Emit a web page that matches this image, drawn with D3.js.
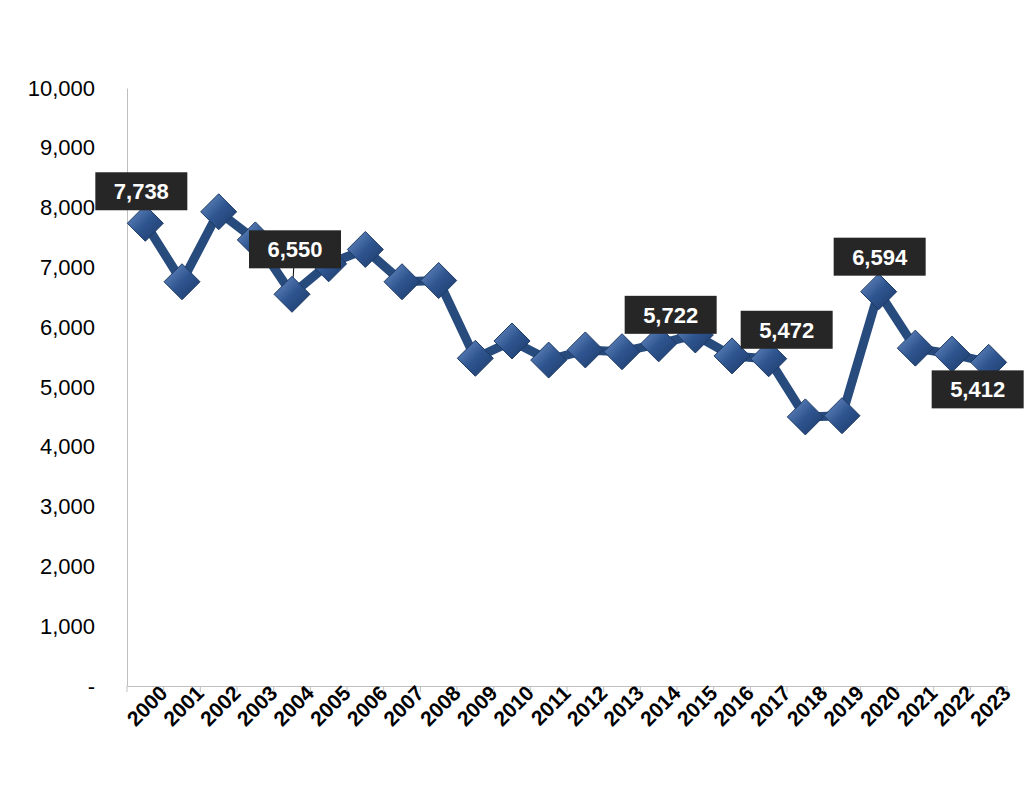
<!DOCTYPE html>
<html><head><meta charset="utf-8">
<script src="https://cdn.jsdelivr.net/npm/d3@7"></script>
<style>body{margin:0;background:#fff;font-family:"Liberation Sans",Arial,sans-serif;}</style>
</head><body><div id="chart"></div>
<script>
var years = ["2000","2001","2002","2003","2004","2005","2006","2007","2008","2009","2010","2011","2012","2013","2014","2015","2016","2017","2018","2019","2020","2021","2022","2023"];
var values = [7738,6760,7930,7460,6550,7060,7300,6760,6780,5480,5770,5450,5620,5590,5722,5870,5520,5472,4500,4520,6594,5650,5550,5412];
var yTicks = [0,1000,2000,3000,4000,5000,6000,7000,8000,9000,10000];
// labelled points: index and box offset from the point
var labels = [
  {i:0, dx:-4, dy:-32},
  {i:4, dx:3, dy:-45},
  {i:14, dx:12, dy:-29},
  {i:17, dx:18, dy:-29},
  {i:20, dx:1, dy:-35},
  {i:23, dx:-11, dy:27}
];

var svg = d3.select("#chart").append("svg").attr("width",1025).attr("height",797);

var x = d3.scaleBand().domain(years).range([127,1007]);
var y = d3.scaleLinear().domain([0,10000]).range([686,88]);

var defs = svg.append("defs");
var grad = defs.append("linearGradient").attr("id","dg").attr("x1","0").attr("y1","0").attr("x2","1").attr("y2","1");
grad.append("stop").attr("offset","0%").attr("stop-color","#6f93c8");
grad.append("stop").attr("offset","50%").attr("stop-color","#2f5590");
grad.append("stop").attr("offset","100%").attr("stop-color","#1a3866");

// y axis
var yAxis = svg.append("g").attr("transform","translate(127,0)")
  .call(d3.axisLeft(y).tickValues(yTicks).tickSize(0).tickPadding(32)
    .tickFormat(function(d){ return d === 0 ? "-" : d3.format(",")(d); }));
yAxis.select(".domain").attr("stroke","#bfbfbf");
yAxis.selectAll("text").style("font-size","22px").style("font-family","Liberation Sans, Arial").attr("fill","#000");

// x axis
var xAxis = svg.append("g").attr("transform","translate(0,686)")
  .call(d3.axisBottom(x).tickSize(0).tickPadding(12));
xAxis.select(".domain").attr("stroke","#bfbfbf");
xAxis.selectAll(".tick text")
  .style("font-size","21px").style("font-weight","bold").style("font-family","Liberation Sans, Arial").attr("fill","#000")
  .attr("text-anchor","end").attr("dx","0.5em").attr("dy","0.5em")
  .attr("transform","rotate(-45)");
svg.append("g").selectAll("line").data(years.concat(["end"])).enter().append("line")
  .attr("x1",function(d,i){ return 127 + i*x.step(); })
  .attr("x2",function(d,i){ return 127 + i*x.step(); })
  .attr("y1",686).attr("y2",692).attr("stroke","#bfbfbf");

var cx = function(i){ return x(years[i]) + x.bandwidth()/2; };

// line
svg.append("path").datum(values)
  .attr("fill","none").attr("stroke","#284b7e").attr("stroke-width",9).attr("stroke-linejoin","round")
  .attr("d", d3.line().x(function(d,i){ return cx(i); }).y(function(d){ return y(d); }));

// leader lines
svg.selectAll(".lead").data(labels).enter().append("line")
  .attr("x1",function(d){ return cx(d.i); }).attr("y1",function(d){ return y(values[d.i]); })
  .attr("x2",function(d){ return cx(d.i)+d.dx*0.6; }).attr("y2",function(d){ return y(values[d.i])+d.dy*0.6; })
  .attr("stroke","#000").attr("stroke-width",1);

// diamonds
svg.selectAll(".pt").data(values).enter().append("path")
  .attr("d","M0,-18L18,0L0,18L-18,0Z")
  .attr("transform",function(d,i){ return "translate("+cx(i)+","+y(d)+")"; })
  .attr("fill","url(#dg)").attr("stroke","#1d3a66").attr("stroke-width",1);

// data labels
var lab = svg.selectAll(".lab").data(labels).enter().append("g")
  .attr("transform",function(d){ return "translate("+(cx(d.i)+d.dx)+","+(y(values[d.i])+d.dy)+")"; });
lab.append("rect").attr("x",-46).attr("y",-19).attr("width",92).attr("height",38).attr("fill","#262626");
lab.append("text").attr("text-anchor","middle").attr("dy","0.36em")
  .style("font-size","22px").style("font-weight","bold").attr("fill","#fff")
  .text(function(d){ return d3.format(",")(values[d.i]); });
</script></body></html>
